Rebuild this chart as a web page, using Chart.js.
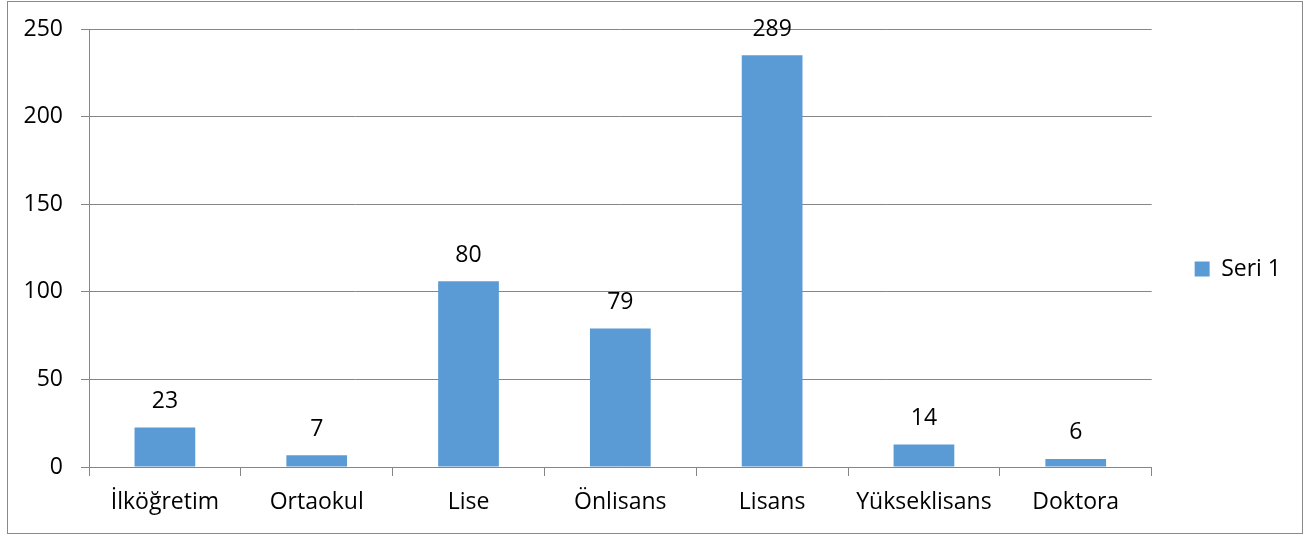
<!DOCTYPE html>
<html>
<head>
<meta charset="utf-8">
<script src="https://cdn.jsdelivr.net/npm/chart.js@4.4.1/dist/chart.umd.min.js"></script>
<style>
  html, body { margin: 0; padding: 0; background: #ffffff; }
  #wrap { position: relative; width: 1311px; height: 538px; }
</style>
</head>
<body>
<div id="wrap"><canvas id="c" width="1311" height="538"></canvas></div>
<script>
const categories = ["İlköğretim", "Ortaokul", "Lise", "Önlisans", "Lisans", "Yükseklisans", "Doktora"];
const seriesName = "Seri 1";
// bar heights as drawn in the reference
const barValues = [22.5, 6.7, 106, 79, 235, 12.8, 4.6];
// data label texts as printed in the reference
const dataLabels = ["23", "7", "80", "79", "289", "14", "6"];
const yTicks = [0, 50, 100, 150, 200, 250];

const FONT = "'Open Sans', 'Liberation Sans', sans-serif";
const FSIZE = 23;
const AXIS_GRAY = "#868686";

const frame = {
  id: "frame",
  beforeDraw(chart) {
    const ctx = chart.ctx;
    ctx.save();
    ctx.fillStyle = "#ffffff";
    ctx.fillRect(0, 0, chart.width, chart.height);
    ctx.strokeStyle = "#898989";
    ctx.lineWidth = 1;
    ctx.strokeRect(7.5, 1.5, 1295, 532);
    ctx.restore();
  }
};

const valueLabels = {
  id: "valueLabels",
  afterDatasetsDraw(chart) {
    const ctx = chart.ctx;
    const meta = chart.getDatasetMeta(0);
    ctx.save();
    ctx.font = FSIZE + "px " + FONT;
    ctx.fillStyle = "#000000";
    ctx.textAlign = "center";
    ctx.textBaseline = "middle";
    meta.data.forEach((bar, i) => {
      ctx.fillText(dataLabels[i], bar.x, bar.y - 26);
    });
    ctx.restore();
  }
};

new Chart(document.getElementById("c"), {
  type: "bar",
  data: {
    labels: categories,
    datasets: [{
      label: seriesName,
      data: barValues,
      backgroundColor: "#5B9BD5",
      borderWidth: 0,
      categoryPercentage: 1,
      barPercentage: 0.4
    }]
  },
  options: {
    responsive: false,
    animation: false,
    devicePixelRatio: 1,
    layout: { padding: { top: 0, left: 0, right: 20, bottom: 0 } },
    plugins: {
      tooltip: { enabled: false },
      legend: {
        position: "right",
        align: "center",
        labels: {
          boxWidth: 15,
          boxHeight: 15,
          padding: 43,
          color: "#000000",
          font: { family: FONT, size: FSIZE }
        }
      }
    },
    scales: {
      x: {
        grid: {
          display: true,
          offset: true,
          drawOnChartArea: false,
          drawTicks: true,
          tickLength: 9,
          color: AXIS_GRAY,
          lineWidth: 1
        },
        border: { display: true, color: AXIS_GRAY, width: 1 },
        ticks: {
          color: "#000000",
          font: { family: FONT, size: FSIZE },
          padding: 13,
          maxRotation: 0,
          autoSkip: false
        },
        afterFit(scale) { scale.height = 71; }
      },
      y: {
        min: 0,
        max: 250,
        afterBuildTicks(scale) { scale.ticks = yTicks.map(v => ({ value: v })); },
        grid: {
          display: true,
          color: AXIS_GRAY,
          lineWidth: 1,
          drawTicks: true,
          tickLength: 8
        },
        border: { display: true, color: AXIS_GRAY, width: 1 },
        ticks: {
          color: "#000000",
          font: { family: FONT, size: FSIZE },
          padding: 18
        },
        afterFit(scale) {
          scale.width = 89;
          scale.paddingTop = 29;
          scale.paddingBottom = 20;
        }
      }
    }
  },
  plugins: [frame, valueLabels]
});
</script>
</body>
</html>
